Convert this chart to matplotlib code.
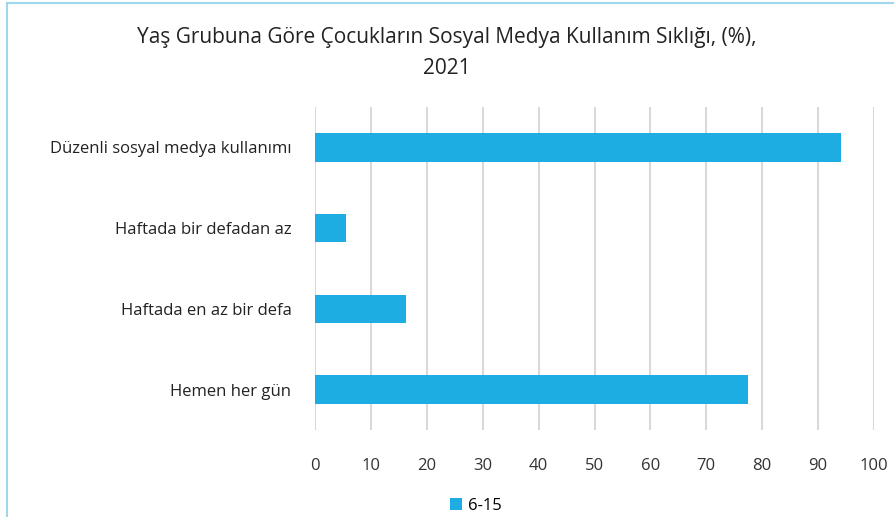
import matplotlib.pyplot as plt
from matplotlib.patches import Rectangle

categories = ["Hemen her gün", "Haftada en az bir defa", "Haftada bir defadan az", "Düzenli sosyal medya kullanımı"]
values = [77.5, 16.3, 5.5, 94.1]
series_name = "6-15"
xticks = [0, 10, 20, 30, 40, 50, 60, 70, 80, 90, 100]

plt.rcParams['font.family'] = ['Open Sans', 'DejaVu Sans']

fig = plt.figure(figsize=(8.94, 5.17), dpi=100)
ax = fig.add_axes([315 / 894, 1 - 430 / 517, (874 - 315) / 894, (430 - 107) / 517])

ax.barh(range(len(categories)), values, height=0.35, color='#1dade2', label=series_name, zorder=3)
ax.set_xlim(0, 100)
ax.set_ylim(-0.5, len(categories) - 0.5)
ax.set_xticks(xticks)
ax.set_yticks(range(len(categories)))
ax.set_yticklabels(categories, fontsize=12, color='#222222')
ax.tick_params(axis='x', labelsize=12, colors='#333333', length=0, pad=20)
ax.tick_params(axis='y', length=0, pad=17)
ax.grid(axis='x', color='#d9d9d9', linewidth=1.5, zorder=0)
for s in ax.spines.values():
    s.set_visible(False)

fig.text(0.5, 1 - 53 / 517, "Yaş Grubuna Göre Çocukların Sosyal Medya Kullanım Sıklığı, (%),\n2021",
         ha='center', va='center', fontsize=15, color='#222222', linespacing=1.6)

fig.legend(loc='center', bbox_to_anchor=(476 / 894, 1 - 506 / 517), frameon=False,
           fontsize=12, handlelength=0.7, handleheight=0.7, handletextpad=0.4)

fig.patches.append(Rectangle((7 / 894, -0.1), 1.2, 1 - 3 / 517 + 0.1, transform=fig.transFigure,
                             fill=False, edgecolor='#9fd8ec', linewidth=1.5))

fig.savefig('out.png', dpi=100)
